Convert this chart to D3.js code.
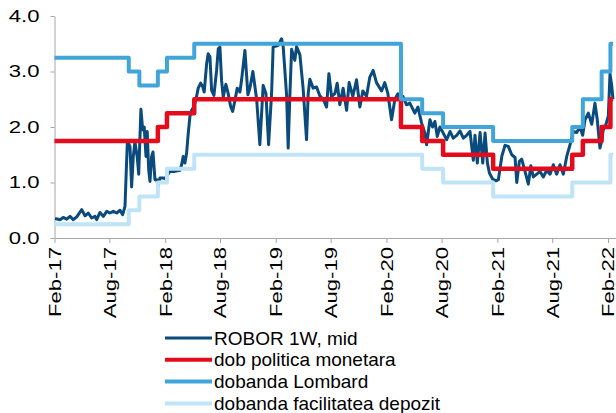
<!DOCTYPE html>
<html>
<head>
<meta charset="utf-8">
<script src="https://cdn.jsdelivr.net/npm/d3@7"></script>
<style>
body { margin: 0; background: #fff; }
svg { display: block; font-family: "Liberation Sans", Arial, sans-serif; }
.axis path, .axis line { stroke: #a6a6a6; stroke-width: 1px; }
.axis text { fill: #000; font-size: 17px; }
.legend text { fill: #000; font-size: 19px; }
</style>
</head>
<body>
<svg id="chart" width="616" height="413"></svg>
<script>
// ROBOR 1W, mid : [decimal year, %]
var robor = [
    [2017.090, 0.35], [2017.135, 0.33], [2017.164, 0.37], [2017.195, 0.34], [2017.225, 0.39],
    [2017.255, 0.33], [2017.286, 0.38], [2017.331, 0.51], [2017.361, 0.40], [2017.390, 0.45],
    [2017.421, 0.36], [2017.451, 0.39], [2017.466, 0.33], [2017.496, 0.46], [2017.526, 0.39],
    [2017.557, 0.48], [2017.586, 0.45], [2017.616, 0.48], [2017.647, 0.45], [2017.677, 0.50],
    [2017.701, 0.42], [2017.722, 0.57], [2017.734, 1.23], [2017.744, 1.75], [2017.767, 1.65],
    [2017.782, 0.92], [2017.797, 1.47], [2017.812, 1.73], [2017.833, 1.45], [2017.846, 1.15],
    [2017.866, 2.32], [2017.882, 1.95], [2017.896, 2.00], [2017.912, 1.47], [2017.923, 1.92],
    [2017.936, 1.23], [2017.948, 1.02], [2017.963, 1.47], [2017.975, 1.55], [2017.993, 1.05],
    [2018.011, 1.05], [2018.020, 0.93], [2018.038, 1.08], [2018.065, 1.08], [2018.083, 1.07],
    [2018.128, 1.20], [2018.173, 1.20], [2018.219, 1.22], [2018.234, 1.32], [2018.248, 1.47],
    [2018.264, 1.35], [2018.279, 1.53], [2018.294, 1.89], [2018.309, 2.19], [2018.324, 2.30],
    [2018.345, 2.37], [2018.363, 2.49], [2018.384, 2.70], [2018.406, 2.79], [2018.424, 2.73],
    [2018.438, 2.63], [2018.460, 3.14], [2018.474, 3.32], [2018.490, 3.26], [2018.505, 2.66],
    [2018.526, 2.57], [2018.550, 3.02], [2018.565, 3.41], [2018.580, 3.44], [2018.595, 2.84],
    [2018.610, 2.54], [2018.634, 2.77], [2018.655, 2.60], [2018.677, 2.37], [2018.695, 2.28],
    [2018.716, 2.48], [2018.736, 2.70], [2018.761, 2.63], [2018.776, 2.85], [2018.806, 3.38],
    [2018.833, 2.58], [2018.851, 2.70], [2018.878, 3.00], [2018.912, 2.50], [2018.941, 1.68],
    [2018.971, 2.75], [2018.996, 2.60], [2019.020, 1.68], [2019.047, 2.60], [2019.061, 3.44],
    [2019.107, 3.47], [2019.137, 3.59], [2019.152, 3.45], [2019.183, 2.56], [2019.197, 1.62],
    [2019.212, 2.55], [2019.228, 3.40], [2019.257, 3.20], [2019.273, 3.45], [2019.303, 3.30],
    [2019.332, 2.70], [2019.363, 1.77], [2019.378, 2.60], [2019.393, 2.86], [2019.423, 2.70],
    [2019.454, 2.72], [2019.483, 2.56], [2019.513, 2.50], [2019.544, 2.36], [2019.565, 2.96],
    [2019.589, 2.55], [2019.619, 2.60], [2019.640, 2.79], [2019.664, 2.40], [2019.694, 2.70],
    [2019.725, 2.30], [2019.748, 2.80], [2019.781, 2.55], [2019.815, 2.85], [2019.845, 2.36],
    [2019.872, 2.65], [2019.905, 2.55], [2019.935, 2.90], [2019.965, 3.02], [2019.995, 2.80],
    [2020.041, 2.65], [2020.070, 2.80], [2020.098, 2.60], [2020.131, 2.13], [2020.161, 2.50],
    [2020.188, 2.60], [2020.221, 2.50], [2020.233, 2.55], [2020.266, 2.40], [2020.296, 2.43],
    [2020.341, 2.25], [2020.369, 2.36], [2020.402, 2.07], [2020.432, 1.89], [2020.447, 1.68],
    [2020.477, 2.13], [2020.501, 2.00], [2020.522, 2.10], [2020.543, 1.83], [2020.567, 2.00],
    [2020.597, 1.89], [2020.628, 1.77], [2020.658, 1.92], [2020.687, 1.80], [2020.718, 1.85],
    [2020.748, 1.93], [2020.778, 1.80], [2020.808, 1.85], [2020.838, 1.92], [2020.868, 1.40],
    [2020.883, 1.85], [2020.904, 1.35], [2020.929, 1.90], [2020.953, 1.35], [2020.974, 1.89],
    [2020.995, 1.35], [2021.013, 1.17], [2021.043, 1.06], [2021.073, 1.03], [2021.094, 1.05],
    [2021.125, 1.47], [2021.154, 1.67], [2021.184, 1.65], [2021.215, 1.50], [2021.245, 1.45],
    [2021.260, 1.00], [2021.284, 1.38], [2021.305, 1.42], [2021.335, 1.20], [2021.365, 0.97],
    [2021.387, 1.30], [2021.410, 1.10], [2021.441, 1.15], [2021.471, 1.20], [2021.500, 1.10],
    [2021.531, 1.22], [2021.561, 1.15], [2021.591, 1.32], [2021.621, 1.15], [2021.651, 1.32],
    [2021.681, 1.15], [2021.712, 1.47], [2021.742, 1.68], [2021.771, 1.92], [2021.802, 1.90],
    [2021.832, 2.00], [2021.856, 1.85], [2021.877, 2.13], [2021.907, 2.25], [2021.938, 2.05],
    [2021.967, 2.43], [2021.988, 2.13], [2022.012, 1.62], [2022.028, 1.75], [2022.042, 1.95],
    [2022.067, 2.05], [2022.088, 2.20], [2022.103, 2.96], [2022.118, 2.75], [2022.130, 2.50]
];

// NBR decisions: date on which each rate took effect
var policyDates = ["2017-02-01", "2018-01-08", "2018-02-07", "2018-05-08", "2020-03-20", "2020-05-29",
    "2020-08-06", "2021-01-18", "2021-10-06", "2021-11-10", "2022-01-11", "2022-02-09"];
var policyRates = [1.75, 2.00, 2.25, 2.50, 2.00, 1.75, 1.50, 1.25, 1.50, 1.75, 2.00, 2.50];

var lombardDates = ["2017-02-01", "2017-10-04", "2017-11-08", "2018-01-08", "2018-02-07", "2018-05-08",
    "2020-03-20", "2020-05-29", "2020-08-06", "2021-01-18", "2021-10-06", "2021-11-10", "2022-01-11", "2022-02-09"];
var lombardRates = [3.25, 3.00, 2.75, 3.00, 3.25, 3.50, 2.50, 2.25, 2.00, 1.75, 2.00, 2.50, 3.00, 3.50];

var depositDates = ["2017-02-01", "2017-10-04", "2017-11-08", "2018-01-08", "2018-02-07", "2018-05-08",
    "2020-05-29", "2020-08-06", "2021-01-18", "2021-10-06", "2022-02-09"];
var depositRates = [0.25, 0.50, 0.75, 1.00, 1.25, 1.50, 1.25, 1.00, 0.75, 1.00, 1.50];

var lastDate = "2022-02-18";

var tickDates = ["2017-02-01", "2017-08-01", "2018-02-01", "2018-08-01", "2019-02-01", "2019-08-01",
    "2020-02-01", "2020-08-01", "2021-02-01", "2021-08-01", "2022-02-01"];
var yTicks = [0, 1, 2, 3, 4];

var seriesNames = ["ROBOR 1W, mid", "dob politica monetara", "dobanda Lombard", "dobanda facilitatea depozit"];
var seriesColors = ["#0b4a7c", "#e30b1c", "#41a5da", "#bfe4f8"];
var seriesWidths = [3, 4.5, 4, 4];

var parse = d3.utcParse("%Y-%m-%d");
var fmtTick = d3.utcFormat("%b-%y");

function fromDecimal(t) {
    var yr = Math.floor(t);
    var a = Date.UTC(yr, 0, 1), b = Date.UTC(yr + 1, 0, 1);
    return new Date(a + (t - yr) * (b - a));
}

function stepData(dates, rates) {
    var pts = dates.map(function(d, i) { return {date: parse(d), value: rates[i]}; });
    pts.push({date: parse(lastDate), value: rates[rates.length - 1]});
    return pts;
}

var svg = d3.select("#chart");

var plotLeft = 54.5, plotRight = 616, plotTop = 16, plotBottom = 238;
var labelStretch = 1.3;

var x = d3.scaleUtc()
    .domain([parse("2017-02-01"), parse("2022-02-01")])
    .range([plotLeft, 608]);
x.domain([x.domain()[0], x.invert(plotRight)]).range([plotLeft, plotRight]);

var y = d3.scaleLinear()
    .domain([0, 4])
    .range([plotBottom, plotTop]);

var line = d3.line()
    .x(function(d) { return x(d.date); })
    .y(function(d) { return y(d.value); });

var stepLine = d3.line()
    .curve(d3.curveStepAfter)
    .x(function(d) { return x(d.date); })
    .y(function(d) { return y(d.value); });

// axes
svg.append("g")
    .attr("class", "axis")
    .attr("transform", "translate(0," + plotBottom + ")")
    .call(d3.axisBottom(x)
        .tickValues(tickDates.map(parse))
        .tickFormat(fmtTick)
        .tickSize(5)
        .tickSizeOuter(0))
    .selectAll("text")
    .attr("transform", "rotate(-90) translate(-9,0) scale(" + labelStretch + ",1)")
    .attr("x", 0)
    .attr("y", 0)
    .attr("dy", "0.35em")
    .style("text-anchor", "end");

var yAxis = svg.append("g")
    .attr("class", "axis")
    .attr("transform", "translate(" + plotLeft + ",0)")
    .call(d3.axisLeft(y)
        .tickValues(yTicks)
        .tickFormat(d3.format(".1f"))
        .tickSize(4)
        .tickSizeOuter(0));

yAxis.selectAll("text")
    .attr("x", 0)
    .attr("transform", "translate(-15,0) scale(" + labelStretch + ",1)");

// series
var series = [
    robor.map(function(d) { return {date: fromDecimal(d[0]), value: d[1]}; }),
    stepData(policyDates, policyRates),
    stepData(lombardDates, lombardRates),
    stepData(depositDates, depositRates)
];

series.forEach(function(s, i) {
    svg.append("path")
        .datum(s)
        .attr("fill", "none")
        .attr("stroke", seriesColors[i])
        .attr("stroke-width", seriesWidths[i])
        .attr("stroke-linejoin", "round")
        .attr("d", i === 0 ? line : stepLine);
});

// legend
var legend = svg.append("g")
    .attr("class", "legend")
    .attr("transform", "translate(165,338)");

var rows = legend.selectAll("g")
    .data(seriesNames)
    .enter()
    .append("g")
    .attr("transform", function(d, i) { return "translate(0," + (i * 21.8) + ")"; });

rows.append("line")
    .attr("x1", 0)
    .attr("x2", 47)
    .attr("stroke", function(d, i) { return seriesColors[i]; })
    .attr("stroke-width", function(d, i) { return i === 0 ? 3 : 4; });

rows.append("text")
    .attr("x", 49)
    .attr("dy", "0.35em")
    .text(function(d) { return d; });
</script>
</body>
</html>
